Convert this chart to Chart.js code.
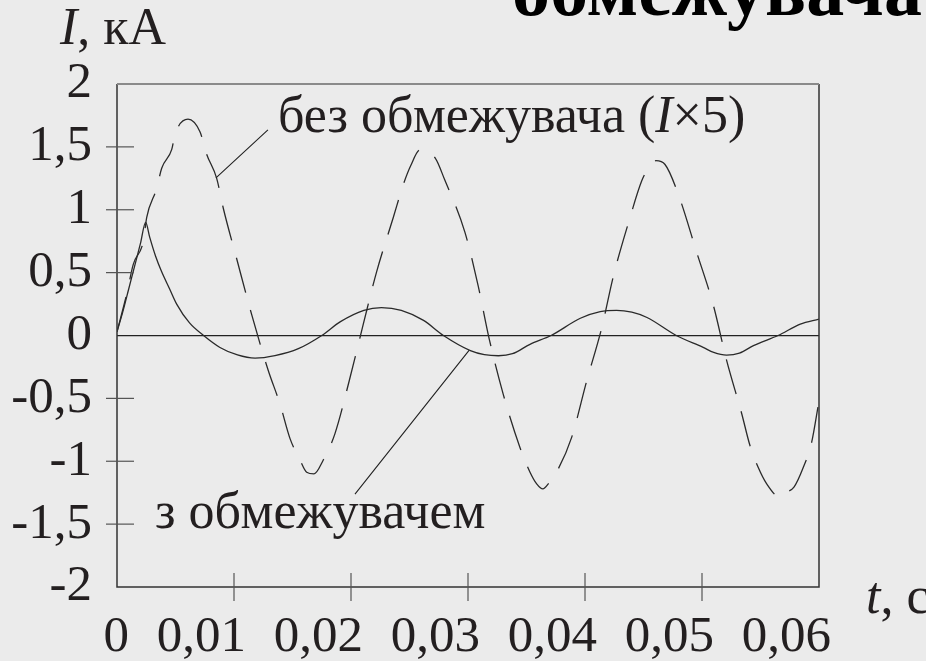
<!DOCTYPE html>
<html>
<head>
<meta charset="utf-8">
<script src="https://cdn.jsdelivr.net/npm/chart.js@4.4.0/dist/chart.umd.min.js"></script>
<style>
  html, body { margin: 0; padding: 0; background: #ebebeb; }
  canvas { display: block; }
</style>
</head>
<body>
<canvas id="chart" width="926" height="661"></canvas>
<script>
// current with the limiter, kA
const limitedT = [0, 0.0005, 0.001, 0.0015, 0.002, 0.00245, 0.0028, 0.0033, 0.0038, 0.0045, 0.0051, 0.0062, 0.0074,
  0.0088, 0.0103, 0.0118, 0.0135, 0.0155, 0.0175, 0.0191, 0.0211, 0.0226, 0.0243, 0.0262, 0.0279, 0.0302, 0.0314,
  0.0326, 0.0338, 0.0353, 0.0371, 0.0396, 0.0413, 0.0427, 0.0440, 0.0453, 0.0478, 0.0501, 0.0510, 0.0521, 0.0532,
  0.0544, 0.0565, 0.0584, 0.06];
const limitedI = [0.03, 0.19, 0.37, 0.55, 0.73, 0.90, 0.78, 0.63, 0.51, 0.37, 0.25, 0.10, 0,
  -0.095, -0.155, -0.18, -0.16, -0.105, 0, 0.11, 0.20, 0.222, 0.20, 0.12, 0, -0.12, -0.152,
  -0.161, -0.145, -0.07, 0, 0.137, 0.19, 0.20, 0.185, 0.143, 0, -0.095, -0.135, -0.156, -0.14,
  -0.08, 0, 0.09, 0.13];

// current without the limiter (scaled I x 5)
const unlimitedT = [0, 0.00083, 0.00139, 0.00225, 0.00254, 0.00339, 0.00382, 0.00468, 0.00496, 0.00607, 0.00709,
  0.00767, 0.00852, 0.00909, 0.01023, 0.0115, 0.0129, 0.01393, 0.01479, 0.01564, 0.01621, 0.01684, 0.01763,
  0.01863, 0.01985, 0.02105, 0.0222, 0.02362, 0.02447, 0.0251, 0.0259, 0.0272, 0.028, 0.02974, 0.03088,
  0.03182, 0.03302, 0.03444, 0.0353, 0.03587, 0.0364, 0.03686, 0.03772, 0.03886, 0.04015, 0.04143, 0.04242,
  0.04379, 0.04485, 0.04541, 0.04607, 0.04684, 0.04806, 0.04955, 0.05097, 0.05211, 0.05339, 0.0541, 0.05481,
  0.05553, 0.05667, 0.05724, 0.05786, 0.05861, 0.05937, 0.06];
const unlimitedI = [0.03, 0.33, 0.566, 0.75, 0.94, 1.17, 1.33, 1.48, 1.60, 1.72, 1.62,
  1.44, 1.25, 1.01, 0.61, 0.17, -0.27, -0.545, -0.82, -0.99, -1.087, -1.10, -0.99,
  -0.78, -0.36, 0.09, 0.51, 0.94, 1.20, 1.35, 1.476, 1.41, 1.24, 0.82, 0.39,
  -0.03, -0.47, -0.89, -1.087, -1.18, -1.22, -1.18, -1.06, -0.81, -0.36, 0.06, 0.47,
  0.92, 1.23, 1.33, 1.39, 1.36, 1.10, 0.66, 0.24, -0.20, -0.62, -0.875, -1.05,
  -1.18, -1.286, -1.246, -1.206, -1.06, -0.85, -0.52];

const xTickLabels = ['0', '0,01', '0,02', '0,03', '0,04', '0,05', '0,06'];
const yTickLabels = ['-2', '-1,5', '-1', '-0,5', '0', '0,5', '1', '1,5', '2'];

const serif = '"Liberation Serif", "Times New Roman", serif';
const ink = '#231f20';

function drawRuns(ctx, x, y, runs, size) {
  runs.forEach(([text, italic]) => {
    ctx.font = (italic ? 'italic ' : '') + size + 'px ' + serif;
    ctx.fillText(text, x, y);
    x += ctx.measureText(text).width;
  });
}

const decorPlugin = {
  id: 'decor',
  afterDraw(chart) {
    const { ctx, chartArea: a, scales: { x, y } } = chart;
    ctx.save();

    // plot frame
    ctx.strokeStyle = '#333';
    ctx.lineWidth = 1.5;
    ctx.beginPath();
    ctx.moveTo(a.left, a.top);
    ctx.lineTo(a.left, a.bottom);
    ctx.lineTo(a.right, a.bottom);
    ctx.lineTo(a.right, a.top);
    ctx.stroke();
    ctx.strokeStyle = '#8a8a8a';
    ctx.lineWidth = 2;
    ctx.beginPath();
    ctx.moveTo(a.left, a.top);
    ctx.lineTo(a.right, a.top);
    ctx.stroke();

    // tick marks crossing the axes
    ctx.strokeStyle = '#555';
    ctx.lineWidth = 1.2;
    y.ticks.forEach(t => {
      if (t.value <= y.min || t.value >= y.max || t.value === 0) return;
      const py = y.getPixelForValue(t.value);
      ctx.beginPath();
      ctx.moveTo(a.left - 11, py);
      ctx.lineTo(a.left + 17, py);
      ctx.stroke();
    });
    x.ticks.forEach(t => {
      if (t.value <= x.min || t.value >= x.max) return;
      const px = x.getPixelForValue(t.value);
      ctx.beginPath();
      ctx.moveTo(px, a.bottom - 14);
      ctx.lineTo(px, a.bottom + 14);
      ctx.stroke();
    });

    // leader lines
    ctx.strokeStyle = '#222';
    ctx.lineWidth = 1.1;
    ctx.beginPath();
    ctx.moveTo(x.getPixelForValue(0.0129), y.getPixelForValue(1.635));
    ctx.lineTo(x.getPixelForValue(0.00846), y.getPixelForValue(1.254));
    ctx.moveTo(x.getPixelForValue(0.02034), y.getPixelForValue(-1.262));
    ctx.lineTo(x.getPixelForValue(0.03009), y.getPixelForValue(-0.119));
    ctx.stroke();

    // labels
    ctx.fillStyle = ink;
    ctx.textBaseline = 'alphabetic';
    ctx.textAlign = 'left';
    drawRuns(ctx, x.getPixelForValue(0.01376), y.getPixelForValue(1.62),
      [['без обмежувача (', false], ['I', true], ['×5)', false]], 52);
    drawRuns(ctx, x.getPixelForValue(0.00325), y.getPixelForValue(-1.53),
      [['з обмежувачем', false]], 52);

    // axis titles
    drawRuns(ctx, 60, 44, [['I', true], [', кА', false]], 52);
    drawRuns(ctx, 866, 613, [['t', true], [', с', false]], 52);

    // clipped heading
    ctx.fillStyle = '#000';
    ctx.font = 'bold 76px ' + serif;
    ctx.fillText('обмежувача', 512, 15);

    ctx.restore();
  }
};

new Chart(document.getElementById('chart'), {
  type: 'line',
  data: {
    datasets: [
      {
        label: 'з обмежувачем',
        data: limitedT.map((t, i) => ({ x: t, y: limitedI[i] })),
        borderColor: '#2a2a2a',
        borderWidth: 1.3,
        pointRadius: 0,
        cubicInterpolationMode: 'monotone'
      },
      {
        label: 'без обмежувача (I×5)',
        data: unlimitedT.map((t, i) => ({ x: t, y: unlimitedI[i] })),
        borderColor: '#2a2a2a',
        borderWidth: 1.3,
        borderDash: [36, 18],
        pointRadius: 0,
        cubicInterpolationMode: 'monotone'
      }
    ]
  },
  options: {
    responsive: false,
    animation: false,
    devicePixelRatio: 1,
    layout: { padding: { left: 0, right: 107, top: 84, bottom: 0 } },
    plugins: { legend: { display: false }, tooltip: { enabled: false } },
    scales: {
      x: {
        type: 'linear',
        min: 0,
        max: 0.06,
        afterFit: (scale) => { scale.height = 74; },
        afterBuildTicks: (scale) => { scale.ticks = xTickLabels.map((_, i) => ({ value: i * 0.01 })); },
        grid: { display: false },
        border: { display: false },
        ticks: {
          autoSkip: false,
          maxRotation: 0,
          align: 'end',
          labelOffset: 12,
          padding: 12,
          color: ink,
          font: { family: serif, size: 51 },
          callback: (v, i) => xTickLabels[i]
        }
      },
      y: {
        min: -2,
        max: 2,
        afterFit: (scale) => { scale.width = 117; },
        afterBuildTicks: (scale) => { scale.ticks = yTickLabels.map((_, i) => ({ value: -2 + i * 0.5 })); },
        grid: {
          drawTicks: false,
          lineWidth: 1.3,
          color: (c) => (c.tick && c.tick.value === 0 ? '#222' : 'rgba(0,0,0,0)')
        },
        border: { display: false },
        ticks: {
          autoSkip: false,
          padding: 25,
          color: ink,
          font: { family: serif, size: 51 },
          callback: (v, i) => yTickLabels[i]
        }
      }
    }
  },
  plugins: [decorPlugin]
});
</script>
</body>
</html>
